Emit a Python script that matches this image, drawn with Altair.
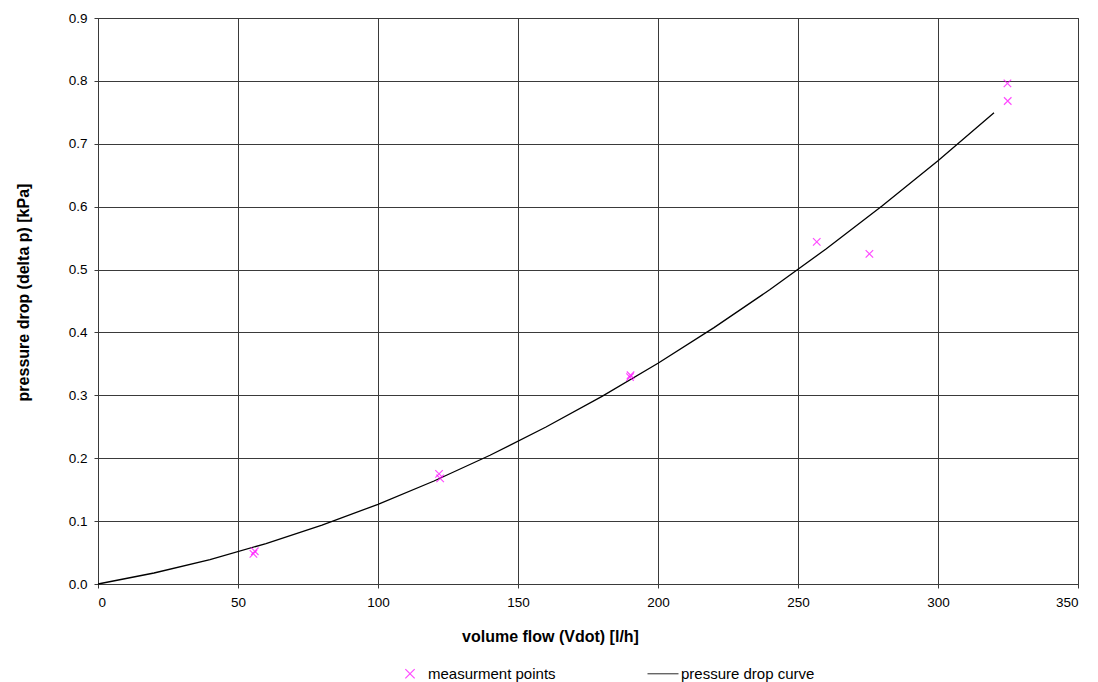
import altair as alt
import pandas as pd

meas_x = [55.5, 56.0, 121.8, 122.2, 190.0, 190.2, 256.7, 275.5, 324.8, 324.9]
meas_y = [0.048, 0.052, 0.175, 0.168, 0.329, 0.332, 0.544, 0.525, 0.796, 0.768]

# pressure drop curve
curve_x = [0, 20, 40, 60, 80, 100, 120, 140, 160, 180, 200, 220, 240, 260, 280, 300, 320]
curve_y = [0.0, 0.0175, 0.0389, 0.0643, 0.0935, 0.1267, 0.1638, 0.2047, 0.2496, 0.2983,
           0.3511, 0.4077, 0.4682, 0.5327, 0.6009, 0.6732, 0.7494]

series_names = ["measurment points", "pressure drop curve"]
x_ticks = [0, 50, 100, 150, 200, 250, 300, 350]
y_ticks = [0.0, 0.1, 0.2, 0.3, 0.4, 0.5, 0.6, 0.7, 0.8, 0.9]

meas = pd.DataFrame({"x": meas_x, "y": meas_y, "series": series_names[0]})
curve = pd.DataFrame({"x": curve_x, "y": curve_y})

FONT = "Liberation Sans"
GRID = "#3a3a3a"
XPATH = "M-0.3,-0.3L0.3,0.3M-0.3,0.3L0.3,-0.3"

x_enc = alt.X(
    "x:Q",
    scale=alt.Scale(domain=[0, 350], nice=False, zero=False),
    axis=alt.Axis(
        values=x_ticks, title="volume flow (Vdot) [l/h]", titleX=452, titleY=52,
        titleBaseline="middle", titleFontWeight="bold", titleFontSize=16,
        labelFontSize=13.5, labelPadding=7, tickSize=4,
    ),
)
y_enc = alt.Y(
    "y:Q",
    scale=alt.Scale(domain=[0, 0.9], nice=False),
    axis=alt.Axis(
        values=y_ticks, format=".1f", title="pressure drop (delta p) [kPa]",
        titleX=-75, titleY=274, titleBaseline="middle", titleFontWeight="bold",
        titleFontSize=16, labelFontSize=13.5, labelPadding=7, tickSize=4,
    ),
)

line = alt.Chart(curve).mark_line(color="black", strokeWidth=1.3).encode(
    x=x_enc, y=y_enc
)

legend_cfg = dict(
    title=None, orient="none", direction="horizontal",
    legendX=295.5, legendY=639, columnPadding=88, padding=0,
    symbolSize=961, symbolStrokeWidth=1.2, labelFontSize=15,
    labelOffset=1.5,
)

points = alt.Chart(meas).mark_point(filled=False, size=625, strokeWidth=1.2).encode(
    x="x:Q",
    y="y:Q",
    color=alt.Color(
        "series:N",
        scale=alt.Scale(domain=series_names, range=["#ff00ff", "black"]),
        legend=alt.Legend(**legend_cfg),
    ),
    shape=alt.Shape(
        "series:N",
        scale=alt.Scale(domain=series_names, range=[XPATH, "stroke"]),
        legend=alt.Legend(**legend_cfg),
    ),
)

chart = (
    alt.layer(line, points)
    .properties(
        width=980, height=566,
        autosize=alt.AutoSizeParams(type="none"),
        padding={"left": 98, "top": 18, "right": 20, "bottom": 98},
        background="white",
    )
    .configure_view(stroke=GRID, strokeWidth=1)
    .configure_axis(
        grid=True, gridColor=GRID, gridWidth=1, gridOpacity=1,
        domainColor=GRID, domainWidth=1, tickColor=GRID, tickWidth=1,
        labelFont=FONT, titleFont=FONT, labelColor="black", titleColor="black",
    )
    .configure_legend(labelFont=FONT, labelColor="black")
)

chart.save("out.html", embed_options={"renderer": "svg", "actions": False})
